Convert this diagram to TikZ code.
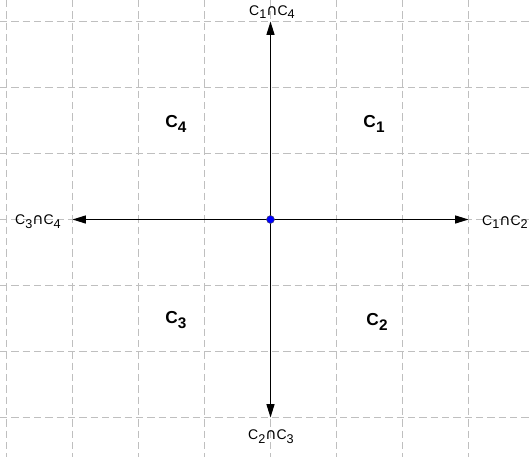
\documentclass[tikz,border=0pt]{standalone}
\usepackage{fontspec}
\setmainfont{Liberation Sans}
\newfontfamily\capfont{DejaVu Sans}
\usetikzlibrary{arrows.meta}
\newcommand{\sbx}[1]{\raisebox{-0.5ex}{\fontsize{9.5}{10}\selectfont #1}}
\newcommand{\capx}{{\capfont\fontsize{11.5}{12}\selectfont ∩}}
\newcommand{\rsb}[1]{\raisebox{-0.45ex}{\fontsize{11.5}{12}\selectfont\bfseries #1}}
\begin{document}
\begin{tikzpicture}[x=0.75pt,y=-0.75pt,
  gridline/.style={draw=black!25, line width=0.75pt, dash pattern=on 5.5pt off 3pt},
  axis/.style={draw=black, line width=0.9pt, -{Triangle[length=10pt,width=6pt]}},
  endlabel/.style={font=\fontsize{10.5}{12}\selectfont, inner sep=1pt},
  region/.style={font=\fontsize{13}{15}\selectfont\bfseries, inner sep=0pt}]
\useasboundingbox (0,0) rectangle (531,457);
\fill[white] (0,0) rectangle (531,457);
\foreach \i in {0,...,7} \draw[gridline] (6.5+66*\i,0) -- (6.5+66*\i,457);
\foreach \j in {0,...,6} \draw[gridline] (0,21.5+66*\j) -- (531,21.5+66*\j);
\coordinate (o) at (270.5,219.5);
\coordinate (t) at (270.5,21.5);
\coordinate (b) at (270.5,417.5);
\coordinate (l) at (72.5,219.5);
\coordinate (r) at (468.5,219.5);
\draw[axis] (o) -- (t);
\draw[axis] (o) -- (b);
\draw[axis] (o) -- (l);
\draw[axis] (o) -- (r);
\node[endlabel] (lt) at (272,12) {C\sbx{1}\capx C\sbx{4}};
\node[endlabel] (lb) at (271,437) {C\sbx{2}\capx C\sbx{3}};
\node[endlabel] (ll) at (38,222) {C\sbx{3}\capx C\sbx{4}};
\node[endlabel] (lr) at (505,222) {C\sbx{1}\capx C\sbx{2}};
\node[region] (c4) at (176,124) {C\rsb{4}};
\node[region] (c1) at (374,124) {C\rsb{1}};
\node[region] (c3) at (176,320) {C\rsb{3}};
\node[region] (c2) at (377,322) {C\rsb{2}};
\filldraw[fill=blue, draw=black!70, line width=0.3pt] (o) circle (3pt);
\end{tikzpicture}
\end{document}
